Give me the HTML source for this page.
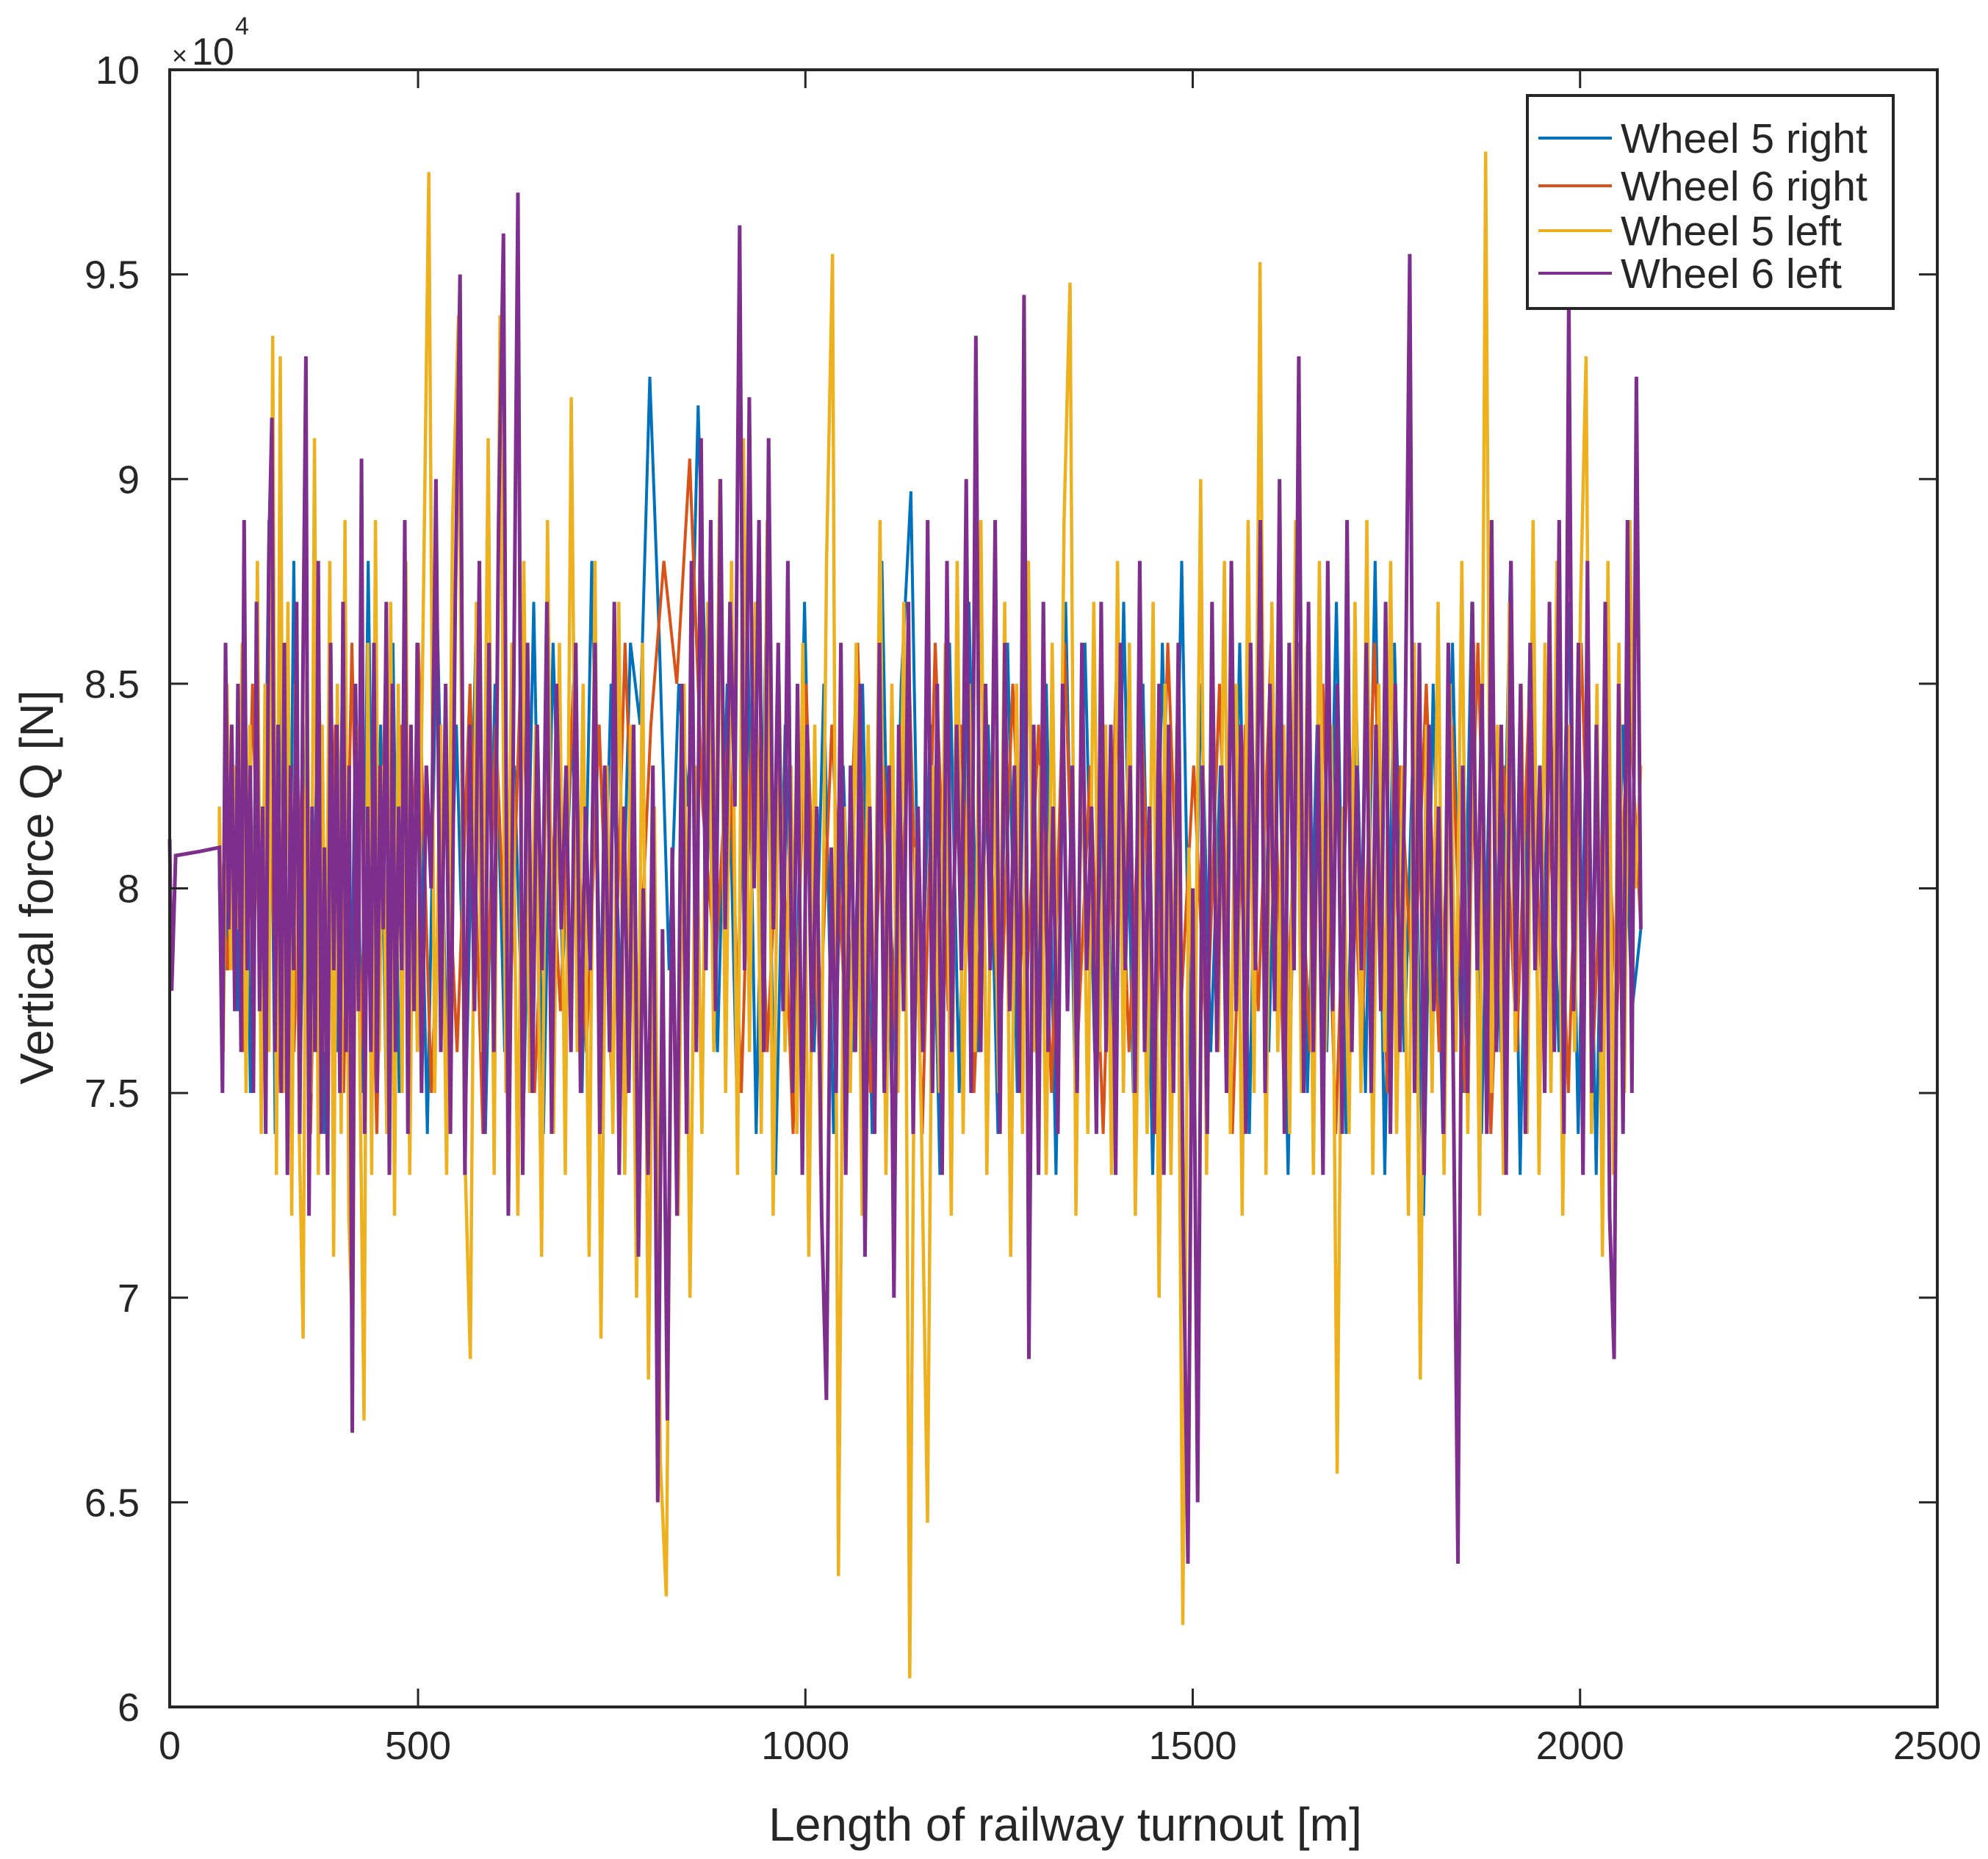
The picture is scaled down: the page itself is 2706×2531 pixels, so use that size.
<!DOCTYPE html>
<html><head><meta charset="utf-8"><style>
html,body{margin:0;padding:0;background:#fff}
svg{display:block}
text{font-family:"Liberation Sans",Arial,sans-serif;fill:#262626}
</style></head><body>
<svg id="chart" width="2706" height="2531" viewBox="0 0 2706 2531" xmlns="http://www.w3.org/2000/svg">
<rect width="2706" height="2531" fill="#fff"/>
<g id="series"></g>
<g id="axes"></g>
<g id="legend"></g>
</svg>
<script>
// ---- data (values in 1e4 N) ----
const xTickVals = [0, 500, 1000, 1500, 2000, 2500];
const yTickVals = [6, 6.5, 7, 7.5, 8, 8.5, 9, 9.5, 10];
const yTickLabels = ["6", "6.5", "7", "7.5", "8", "8.5", "9", "9.5", "10"];
const seriesNames = ["Wheel 5 right", "Wheel 6 right", "Wheel 5 left", "Wheel 6 left"];
const leadDist = [0, 4, 12, 60, 100];
const leadVal = [8.12, 7.75, 8.08, 8.09, 8.1];
const noiseStart = 100;
const noiseEnd = 2085;
const wheel5Right = [
8.0,7.8,8.4,7.7,8.7,7.5,8.5,7.6,8.9,7.4,8.6,7.3,8.8,7.5,8.4,7.7,8.6,7.4,8.3,7.6,
8.7,7.3,8.5,7.5,8.8,7.6,8.4,7.4,8.6,7.5,8.3,7.7,8.5,7.4,8.7,7.6,8.4,7.5,8.6,7.4,
8.5,7.6,8.3,7.5,8.7,7.4,8.6,7.8,8.4,7.5,8.8,7.6,8.5,7.7,8.6,8.4,9.25,8.6,7.8,8.5,
8.2,9.18,8.3,7.6,8.5,7.5,8.8,7.4,8.6,7.3,8.4,7.5,8.7,7.6,8.5,7.4,8.3,7.6,8.5,7.4,
8.8,7.5,8.5,8.97,7.6,8.4,7.3,8.6,7.5,8.7,7.6,8.4,7.4,8.6,7.5,8.8,7.6,8.5,7.3,8.7,
7.5,8.6,7.6,8.4,7.4,8.7,7.5,8.5,7.3,8.6,7.6,8.8,7.4,8.5,7.6,8.3,7.5,8.6,7.4,8.7,
7.6,8.5,7.3,8.6,7.5,8.4,7.6,8.7,7.4,8.5,7.5,8.8,7.3,8.6,7.6,8.4,7.2,8.5,7.4,8.6,
7.5,8.7,7.4,8.5,7.6,8.8,7.3,8.6,7.5,8.4,7.6,8.7,7.4,8.5,7.3,8.6,7.5,8.4,7.7,7.9];
const wheel6Right = [
8.1,7.8,8.3,7.6,8.5,7.7,8.4,7.5,8.6,7.6,8.3,7.4,8.5,7.7,8.4,7.5,8.6,7.6,8.3,7.4,
8.5,7.6,8.4,7.7,8.6,7.5,8.3,7.6,8.5,7.4,8.4,7.6,8.6,7.5,8.3,7.7,8.5,7.6,8.4,7.5,
8.6,7.7,8.4,8.8,8.5,9.05,8.2,7.8,8.4,7.5,8.6,7.6,8.3,7.4,8.5,7.6,8.4,7.7,8.6,7.5,
8.3,7.6,8.5,7.4,8.6,7.7,8.4,7.5,8.3,7.6,8.5,7.7,8.4,7.5,8.6,7.6,8.3,7.4,8.5,7.6,
8.4,7.5,8.6,7.7,8.3,7.6,8.5,7.4,8.4,7.7,8.6,7.5,8.3,7.6,8.5,7.4,8.4,7.6,8.6,7.5,
8.3,7.7,8.5,7.6,8.4,7.5,8.6,7.4,8.3,7.6,8.5,7.7,8.4,7.5,8.6,7.6,8.3,7.7,8.5,7.9];
const wheel5Left = [
8.2,7.6,8.5,7.8,8.3,7.9,8.6,7.5,8.4,7.7,8.8,7.4,8.5,7.6,9.35,7.3,9.3,7.5,8.7,7.2,
8.5,7.4,6.9,8.6,7.5,9.1,7.3,8.4,7.6,8.8,7.1,8.5,7.4,8.9,7.2,6.9,8.4,7.5,6.7,8.6,
7.3,8.9,7.6,8.3,7.4,8.7,7.2,8.5,7.5,8.8,7.3,8.2,7.6,8.6,9.75,7.5,8.4,7.3,8.9,9.4,
7.4,6.85,8.7,7.6,9.1,7.3,9.4,7.5,8.6,7.2,8.8,7.5,8.4,7.1,8.9,7.4,8.6,7.3,9.2,7.6,
8.5,7.1,8.8,6.9,8.3,7.4,8.7,7.3,8.4,7.0,8.6,6.8,8.2,6.6,6.27,8.0,7.2,8.5,7.0,8.3,
7.4,8.7,7.6,9.0,7.5,8.8,7.3,9.1,7.6,8.7,7.4,8.9,7.2,8.5,7.6,8.3,7.4,8.6,7.1,8.4,
7.3,8.8,9.55,6.32,8.2,7.5,8.6,7.2,8.4,7.6,8.9,7.3,8.5,7.5,8.7,6.07,8.1,7.4,6.45,8.3,
7.5,8.6,7.2,8.8,7.4,8.5,7.6,8.9,7.3,8.4,7.5,8.7,7.1,8.5,7.4,8.8,7.6,8.3,7.3,8.6,
7.5,8.9,9.48,7.2,8.5,7.4,8.7,7.6,8.4,7.3,8.8,7.5,8.6,7.2,8.3,7.4,8.7,7.0,8.5,7.3,
8.4,6.2,8.1,7.5,9.0,7.3,8.6,7.6,8.8,7.4,8.5,7.2,8.9,7.5,9.53,7.3,8.7,7.6,8.4,7.4,
8.9,7.5,8.6,7.3,8.8,7.6,8.4,6.57,8.2,7.4,8.7,7.5,8.9,7.3,8.5,7.6,8.8,7.4,8.3,7.2,
8.6,6.8,8.4,7.5,8.7,7.3,8.5,7.6,8.8,7.4,8.6,7.2,9.8,7.5,8.4,7.3,8.7,7.6,8.5,7.4,
8.9,7.3,8.6,7.5,8.8,7.2,8.4,7.6,8.7,9.3,7.4,8.5,7.1,8.8,7.3,8.6,7.5,8.9,8.0,8.3];
const wheel6Left = [
8.1,7.5,8.6,7.9,8.4,7.7,8.5,7.6,8.9,7.8,8.3,7.5,8.7,7.7,8.2,7.4,8.8,9.15,7.6,8.4,
7.5,8.6,7.3,8.3,7.8,8.7,7.4,8.5,9.3,7.2,8.2,7.6,8.8,7.4,8.1,7.3,8.6,7.8,8.4,7.5,
8.7,7.6,8.3,6.67,8.5,7.7,9.05,7.4,8.2,7.6,8.6,7.5,8.3,7.9,8.7,7.3,8.5,7.6,8.2,7.8,
8.9,7.4,8.4,7.7,8.6,7.5,8.3,8.0,9.0,7.6,8.5,7.4,8.7,9.5,7.3,8.4,7.7,8.8,7.4,8.6,
7.6,8.9,9.6,7.2,8.3,9.7,7.3,8.6,7.5,8.4,7.8,8.7,7.4,8.5,7.9,8.3,7.6,8.6,7.5,8.2,
7.8,8.6,7.4,8.3,7.6,8.7,7.3,8.2,7.5,8.4,7.1,8.0,7.3,8.3,6.5,7.9,6.7,8.1,7.2,8.5,
7.4,8.8,7.6,9.1,7.8,8.9,7.7,9.0,7.9,8.7,8.2,9.62,7.8,9.2,8.0,8.9,7.6,9.1,7.9,8.6,
7.7,8.8,7.5,8.5,7.3,8.4,7.6,8.2,7.2,6.75,8.1,7.5,8.6,7.3,8.3,7.6,8.5,7.1,8.2,7.4,
8.6,7.5,8.3,7.0,8.4,7.7,8.7,7.4,8.2,7.6,8.9,7.5,8.5,7.3,8.8,7.6,8.4,7.8,9.0,7.5,
9.35,7.6,8.5,7.8,8.9,7.4,8.6,7.7,8.3,7.5,9.45,6.85,8.4,7.3,8.7,7.6,8.2,7.4,8.5,7.7,
8.3,7.5,8.6,7.8,8.2,7.4,8.7,7.6,8.4,7.3,8.6,7.8,8.3,7.5,8.8,7.6,8.2,7.4,8.5,7.3,
8.4,7.5,8.6,7.2,6.35,8.0,6.5,8.3,7.4,8.7,7.6,8.3,7.5,8.8,7.7,8.4,7.4,8.6,7.8,8.9,
7.5,8.5,7.7,9.0,7.4,8.6,7.8,9.3,7.5,8.7,7.6,8.4,7.3,8.8,7.7,8.5,7.4,8.9,7.6,8.3,
7.8,8.6,7.5,8.4,7.7,8.7,7.4,8.5,7.6,8.3,9.55,7.5,8.6,7.3,8.4,7.7,8.2,7.4,8.6,7.6,
6.35,8.3,7.5,8.7,7.8,8.5,7.4,8.9,7.6,8.4,7.3,8.8,7.7,8.5,7.4,8.6,7.8,8.3,7.5,8.7,
7.6,8.9,7.4,9.45,7.7,8.6,7.3,8.8,7.5,8.4,7.6,8.7,7.2,6.85,8.5,7.4,8.9,7.5,9.25,7.9];
const seriesColors = ["#0072BD", "#D95319", "#EDB120", "#7E2F8E"];
const seriesWidths = [4, 4, 4.5, 5];

// ---- layout ----
const L = 231, R = 2637, T = 95, B = 2324;
const NS = "http://www.w3.org/2000/svg";
const xKnotVal = [0, 500, 2000, 2500];
const xKnotFrac = [0, 0.1405, 0.7979, 1];
function xScale(v) {
  for (let k = 0; k < xKnotVal.length - 1; k++) {
    if (v <= xKnotVal[k + 1] || k === xKnotVal.length - 2) {
      const f = xKnotFrac[k] + (v - xKnotVal[k]) / (xKnotVal[k + 1] - xKnotVal[k]) * (xKnotFrac[k + 1] - xKnotFrac[k]);
      return L + f * (R - L);
    }
  }
}
function yScale(v) { return B - (v - 6) / 4 * (B - T); }
function mk(tag, attrs, parent) {
  const e = document.createElementNS(NS, tag);
  for (const k in attrs) e.setAttribute(k, attrs[k]);
  parent.appendChild(e);
  return e;
}

const sg = document.getElementById('series');
const allSeries = [wheel5Right, wheel6Right, wheel5Left, wheel6Left];
const seriesKeys = ['wheel-5-right-line', 'wheel-6-right-line', 'wheel-5-left-line', 'wheel-6-left-line'];
allSeries.forEach((vals, s) => {
  const pts = [];
  for (let i = 0; i < leadDist.length; i++) pts.push(xScale(leadDist[i]).toFixed(1) + ',' + yScale(leadVal[i]).toFixed(1));
  const step = (noiseEnd - noiseStart) / (vals.length - 1);
  for (let i = 0; i < vals.length; i++) {
    const d = noiseStart + i * step;
    pts.push(xScale(d).toFixed(1) + ',' + yScale(vals[i]).toFixed(1));
  }
  const pl = mk('polyline', {points: pts.join(' '), fill: 'none', stroke: seriesColors[s], 'stroke-width': seriesWidths[s], 'stroke-linejoin': 'miter', 'stroke-miterlimit': 2}, sg);
  
  
});

// ---- axes ----
const ax = document.getElementById('axes');
const box = mk('rect', {x: L, y: T, width: R - L, height: B - T, fill: 'none', stroke: '#262626', 'stroke-width': 4}, ax);


const TL = 25;
xTickVals.forEach(v => {
  const x = xScale(v);
  const t1 = mk('line', {x1: x, y1: B, x2: x, y2: B - TL, stroke: '#262626', 'stroke-width': 3}, ax);
  
  
  const t2 = mk('line', {x1: x, y1: T, x2: x, y2: T + TL, stroke: '#262626', 'stroke-width': 3}, ax);
  
  
  const lb = mk('text', {x: x, y: 2395, 'font-size': 54, 'text-anchor': 'middle'}, ax);
  lb.textContent = String(v);
  
  
});
yTickVals.forEach((v, i) => {
  const y = yScale(v);
  const t1 = mk('line', {x1: L, y1: y, x2: L + TL, y2: y, stroke: '#262626', 'stroke-width': 3}, ax);
  
  
  const t2 = mk('line', {x1: R, y1: y, x2: R - TL, y2: y, stroke: '#262626', 'stroke-width': 3}, ax);
  
  
  const lb = mk('text', {x: 190, y: y + 19, 'font-size': 54, 'text-anchor': 'end'}, ax);
  lb.textContent = yTickLabels[i];
  
  
});
const mult = mk('text', {x: 234, y: 88, 'font-size': 36}, ax);
mult.textContent = '×';


const mult10 = mk('text', {x: 261, y: 88, 'font-size': 52}, ax);
mult10.textContent = '10';


const mult4 = mk('text', {x: 320, y: 47, 'font-size': 34}, ax);
mult4.textContent = '4';


const xt = mk('text', {x: 1450, y: 2506, 'font-size': 64, 'text-anchor': 'middle'}, ax);
xt.textContent = 'Length of railway turnout [m]';


const yt = mk('text', {x: 0, y: 0, 'font-size': 64, 'text-anchor': 'middle', transform: 'translate(72,1208) rotate(-90)'}, ax);
yt.textContent = 'Vertical force Q [N]';



// ---- legend ----
const lg = document.getElementById('legend');
const lbox = mk('rect', {x: 2079, y: 130, width: 498, height: 290, fill: '#fff', stroke: '#262626', 'stroke-width': 4}, lg);


const rowY = [188, 253, 314, 372];
seriesNames.forEach((n, i) => {
  const ln = mk('line', {x1: 2094, y1: rowY[i], x2: 2194, y2: rowY[i], stroke: seriesColors[i], 'stroke-width': 4}, lg);
  
  
  const tx = mk('text', {x: 2206, y: rowY[i] + 20, 'font-size': 57, fill: '#000'}, lg);
  tx.textContent = n;
  
  
});
</script>
</body></html>
